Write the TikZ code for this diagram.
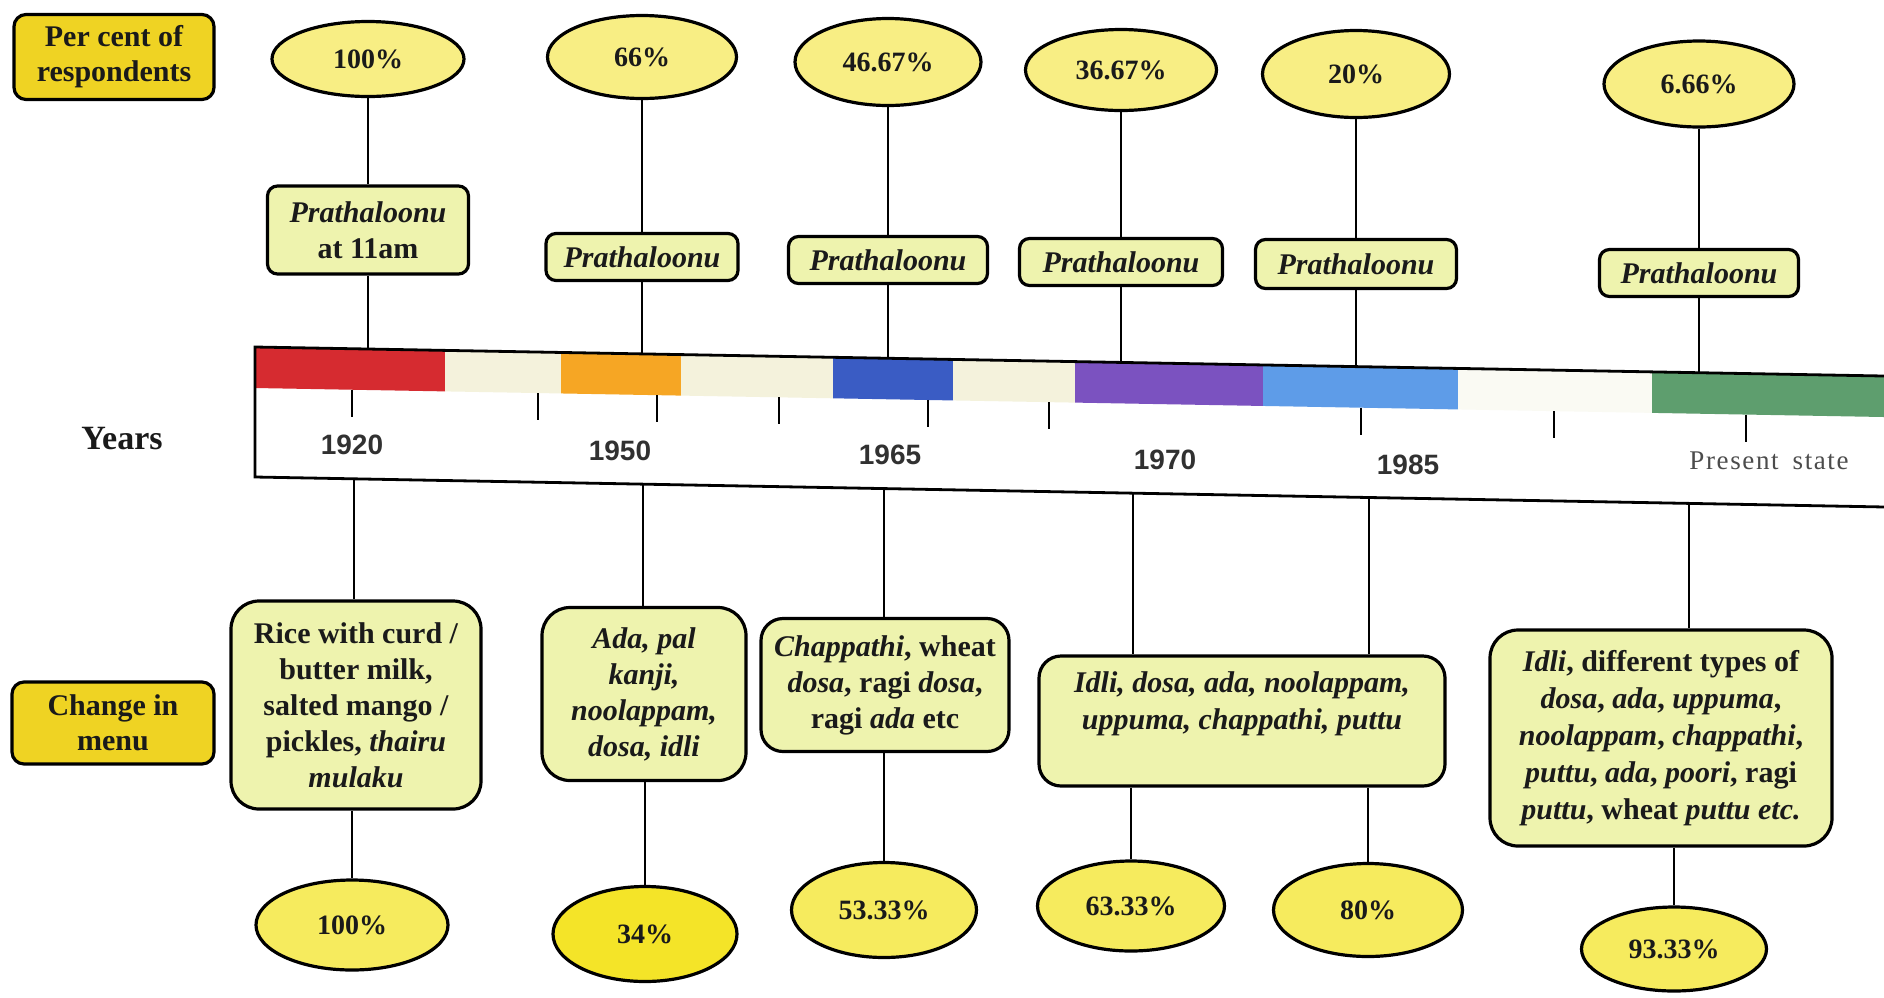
\documentclass[tikz,border=0pt]{standalone}
\usepackage{fontspec}
\setmainfont{Liberation Serif}
\newfontfamily\yearfont{Liberation Sans}
\newfontfamily\presentfont[LetterSpace=6]{Liberation Serif}
\usetikzlibrary{shapes.geometric}
\definecolor{labyellow}{HTML}{EFD323}
\definecolor{topyellow}{HTML}{F8EE84}
\definecolor{botyellow}{HTML}{F6EB5E}
\definecolor{boxgreen}{HTML}{EEF3AE}
\definecolor{txt}{HTML}{1A1A1A}
\definecolor{cred}{HTML}{D62B30}
\definecolor{ccream}{HTML}{F4F2DC}
\definecolor{corange}{HTML}{F6A624}
\definecolor{cblue}{HTML}{3A5CC4}
\definecolor{cpurple}{HTML}{7B52C0}
\definecolor{clblue}{HTML}{5E9CE8}
\definecolor{cwhite}{HTML}{FAFAF3}
\definecolor{cgreen}{HTML}{5E9E6E}
\definecolor{strongyellow}{HTML}{F4E428}
\newcommand\bandseg[3]{\fill[#3] (#1,{347+0.0178*(#1-255)}) -- (#2,{347+0.0178*(#2-255)}) -- (#2,{388+0.0178*(#2-255)}) -- (#1,{388+0.0178*(#1-255)}) -- cycle;}
\newcommand\bandtick[1]{\draw[tickline] (#1,{388+0.0178*(#1-255)}) -- ++(0,27);}
\newcommand\bandtop[2]{\coordinate (#2) at (#1,{347+0.0178*(#1-255)});}
\newcommand\bandbot[2]{\coordinate (#2) at (#1,{477+0.0184*(#1-255)});}
\begin{document}
\begin{tikzpicture}[x=1pt,y=-1pt,
  lab/.style={draw=black, line width=3.2pt, rounded corners=12pt, fill=labyellow, align=center, font=\fontsize{30}{35}\selectfont\bfseries, text=txt, inner sep=0pt},
  topell/.style={ellipse, draw=black, line width=3.2pt, fill=topyellow, inner sep=0pt, font=\fontsize{28}{32}\selectfont\bfseries, text=txt},
  botell/.style={topell, fill=botyellow},
  pbox/.style={draw=black, line width=3.2pt, rounded corners=10pt, fill=boxgreen, inner sep=0pt, minimum height=47pt, minimum width=199pt, font=\fontsize{30}{36}\selectfont\bfseries, align=center, text=txt},
  mbox/.style={draw=black, line width=3.2pt, rounded corners=28pt, fill=boxgreen, inner sep=0pt, font=\fontsize{30}{36}\selectfont\bfseries, align=center, text=txt},
  conn/.style={line width=2.8pt},
  tickline/.style={line width=2.8pt},
  yearlab/.style={font=\yearfont\fontsize{28}{32}\selectfont\bfseries, text=txt!90!white}
]
\useasboundingbox (0,0) rectangle (1884,997);
\fill[white] (0,0) rectangle (1884,997);

% ---- band ----
\bandseg{255}{445}{cred}
\bandseg{445}{561}{ccream}
\bandseg{561}{681}{corange}
\bandseg{681}{833}{ccream}
\bandseg{833}{953}{cblue}
\bandseg{953}{1075}{ccream}
\bandseg{1075}{1263}{cpurple}
\bandseg{1263}{1458}{clblue}
\bandseg{1458}{1652}{cwhite}
\bandseg{1652}{1884}{cgreen}
\draw[line width=2.8pt] (1884,{347+0.0178*(1884-255)}) -- (255,347) -- (255,477) -- (1884,{477+0.0184*(1884-255)});
\foreach \t in {352,538,657,779,928,1049,1361,1554,1746} {\bandtick{\t}}

\node[yearlab] (y1920) at (352,445) {1920};
\node[yearlab] (y1950) at (620,451) {1950};
\node[yearlab] (y1965) at (890,455) {1965};
\node[yearlab] (y1970) at (1165,460) {1970};
\node[yearlab] (y1985) at (1408,465) {1985};
\node[font=\presentfont\fontsize{27}{30}\selectfont, text=black!70] (ypres) at (1769,461) {Present\hspace{14pt}state};
\node[font=\fontsize{34}{38}\selectfont\bfseries, text=txt] (years) at (122,439) {Years};

% ---- labels ----
\node[lab, minimum width=200pt, minimum height=85pt] (lpc) at (114,57) {Per cent of\\respondents};
\node[lab, minimum width=202pt, minimum height=82pt] (lcm) at (113,723) {Change in\\menu};

% ---- top ellipses ----
\node[topell, minimum width=192pt, minimum height=75pt] (e1) at (368,59) {100\%};
\node[topell, minimum width=189pt, minimum height=83pt] (e2) at (642,57) {66\%};
\node[topell, minimum width=186pt, minimum height=87pt] (e3) at (888,62) {46.67\%};
\node[topell, minimum width=191pt, minimum height=81pt] (e4) at (1121,70) {36.67\%};
\node[topell, minimum width=187pt, minimum height=87pt] (e5) at (1356,74) {20\%};
\node[topell, minimum width=190pt, minimum height=86pt] (e6) at (1699,84) {6.66\%};

% ---- Prathaloonu boxes ----
\node[pbox, minimum width=201pt, minimum height=88pt] (p1) at (368,230) {\textit{Prathaloonu}\\at 11am};
\node[pbox, minimum width=192pt] (p2) at (642,257) {\textit{Prathaloonu}};
\node[pbox] (p3) at (888,260) {\textit{Prathaloonu}};
\node[pbox, minimum width=203pt] (p4) at (1121,262) {\textit{Prathaloonu}};
\node[pbox, minimum width=201pt, minimum height=49pt] (p5) at (1356,264) {\textit{Prathaloonu}};
\node[pbox] (p6) at (1699,273) {\textit{Prathaloonu}};

% ---- band attachment points ----
\bandtop{368}{t1}
\bandtop{642}{t2}
\bandtop{888}{t3}
\bandtop{1121}{t4}
\bandtop{1356}{t5}
\bandtop{1699}{t6}
\bandbot{354}{b1}
\bandbot{643}{b2}
\bandbot{884}{b3}
\bandbot{1133}{b4}
\bandbot{1369}{b5}
\bandbot{1689}{b6}

% ---- menu boxes ----
\node[mbox, minimum width=250pt, minimum height=208pt] (m1) at (356,705) {Rice with curd /\\butter milk,\\salted mango /\\pickles, \textit{thairu}\\\textit{mulaku}};
\node[mbox, minimum width=204pt, minimum height=173pt] (m2) at (644,694) {\textit{Ada, pal}\\\textit{kanji,}\\\textit{noolappam,}\\\textit{dosa, idli}};
\node[mbox, minimum width=248pt, minimum height=133pt, rounded corners=22pt] (m3) at (885,685) {\textit{Chappathi}, wheat\\\textit{dosa}, ragi \textit{dosa},\\ragi \textit{ada} etc};
\node[mbox, minimum width=406pt, minimum height=130pt, rounded corners=22pt] (m4) at (1242,721) {};
\node[font=\fontsize{30}{37}\selectfont\bfseries, text=txt, align=center] (m4t) at (1242,704) {\textit{Idli, dosa, ada, noolappam,}\\\textit{uppuma, chappathi, puttu}};
\node[mbox, minimum width=342pt, minimum height=216pt, font=\fontsize{30}{37}\selectfont\bfseries] (m5) at (1661,738) {\textit{Idli}, different types of\\\textit{dosa}, \textit{ada}, \textit{uppuma},\\\textit{noolappam}, \textit{chappathi},\\\textit{puttu}, \textit{ada}, \textit{poori}, ragi\\\textit{puttu}, wheat \textit{puttu etc.}};

% ---- bottom ellipses ----
\node[botell, minimum width=192pt, minimum height=90pt] (f1) at (352,925) {100\%};
\node[botell, minimum width=184pt, minimum height=95pt, fill=strongyellow] (f2) at (645,934) {34\%};
\node[botell, minimum width=185pt, minimum height=95pt] (f3) at (884,910) {53.33\%};
\node[botell, minimum width=187pt, minimum height=90pt] (f4) at (1131,906) {63.33\%};
\node[botell, minimum width=189pt, minimum height=93pt] (f5) at (1368,910) {80\%};
\node[botell, minimum width=185pt, minimum height=84pt] (f6) at (1674,949) {93.33\%};

% ---- connectors top ----
\foreach \i in {1,...,6} {
  \draw[conn] (e\i) -- (p\i);
  \draw[conn] (p\i) -- (t\i);
}
% ---- connectors bottom ----
\draw[conn] (b1) -- (b1 |- m1.north);
\draw[conn] (m1.south -| f1) -- (f1);
\draw[conn] (b2) -- (b2 |- m2.north);
\draw[conn] (m2.south -| f2) -- (f2);
\draw[conn] (b3) -- (b3 |- m3.north);
\draw[conn] (m3.south -| f3) -- (f3);
\draw[conn] (b4) -- (b4 |- m4.north);
\draw[conn] (m4.south -| f4) -- (f4);
\draw[conn] (b5) -- (b5 |- m4.north);
\draw[conn] (m4.south -| f5) -- (f5);
\draw[conn] (b6) -- (b6 |- m5.north);
\draw[conn] (m5.south -| f6) -- (f6);
\end{tikzpicture}
\end{document}
